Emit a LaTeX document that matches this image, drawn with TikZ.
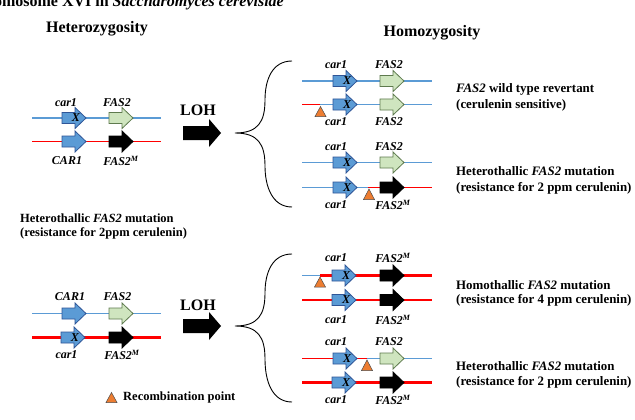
\documentclass[tikz,border=0pt]{standalone}
\usepackage{fontspec}
\setmainfont{Liberation Serif}
\definecolor{chrblue}{HTML}{5B9BD5}
\definecolor{chrred}{HTML}{FF0000}
\definecolor{genblue}{HTML}{5B9BD5}
\definecolor{genblueline}{HTML}{2F5597}
\definecolor{gengreen}{HTML}{CFE5BF}
\definecolor{gengreenline}{HTML}{5E7A4E}
\definecolor{recomb}{HTML}{ED7D31}
\newcommand\supM{\textsuperscript{M}}
\tikzset{
  gene/.pic={\path[pic actions] (0,-5.5) -- (13,-5.5) -- (13,-10.5) -- (24,0) -- (13,10.5) -- (13,5.5) -- (0,5.5) -- cycle;},
  bluegene/.style={fill=genblue,draw=genblueline,line width=0.8pt},
  greengene/.style={fill=gengreen,draw=gengreenline,line width=0.8pt},
  blackgene/.style={fill=black,draw=black,line width=0.8pt},
  bline/.style={draw=chrblue,line width=1.6pt},
  rline/.style={draw=chrred,line width=1.6pt},
  rlinethick/.style={draw=chrred,line width=2.3pt},
  glabel/.style={font=\fontsize{12}{13}\selectfont\bfseries\itshape,inner sep=0pt},
  xmark/.style={font=\fontsize{12}{13}\selectfont\bfseries\itshape,inner sep=0pt},
  desc/.style={font=\fontsize{12.5}{15}\selectfont\bfseries,inner sep=0pt,anchor=west},
  rdesc/.style={desc,font=\fontsize{12.9}{15}\selectfont\bfseries},
  head/.style={font=\fontsize{16}{18}\selectfont\bfseries,inner sep=0pt},
  bigarrow/.style={fill=black},
  brace/.style={draw=black,line width=0.9pt},
  tri/.style={fill=recomb,draw=black!70,line width=0.5pt},
}
\begin{document}
\begin{tikzpicture}[x=1pt,y=-1pt]
\useasboundingbox (0,0) rectangle (635,420);
\fill[white] (0,0) rectangle (635,420);
\clip (0,0) rectangle (635,420);

% title and headers
\node[head,anchor=base east] (title) at (284,6.5) {Chromosome XVI in \textit{Saccharomyces cerevisiae}};
\node[head] (het) at (97,29) {Heterozygosity};
\node[head] (hom) at (432,33) {Homozygosity};

% ===== left top =====
\draw[bline] (32,118) -- (161,118);
\draw[rline] (32,141.5) -- (161,141.5);
\pic[bluegene] at (62,118) {gene};
\pic[greengene] at (109,118) {gene};
\pic[bluegene] at (62,141.5) {gene};
\pic[blackgene] at (109,141.5) {gene};
\node[xmark] (xa) at (76,118) {X};
\node[glabel] (la1) at (66,102.5) {car1};
\node[glabel] (la2) at (117,102.5) {FAS2};
\node[glabel] (la3) at (67,161) {CAR1};
\node[glabel] (la4) at (121,161) {FAS2\supM};

\node[head] (loh1) at (198,110.5) {LOH};
\path[bigarrow] (183,126) -- (209,126) -- (209,119) -- (221,133) -- (209,147) -- (209,140) -- (183,140) -- cycle;
\draw[brace] (292,61) .. controls (272,61) and (265,80) .. (265,100) .. controls (265,122) and (258,133) .. (235,133) .. controls (258,133) and (265,144) .. (265,166) .. controls (265,186) and (272,207) .. (292,207);

\node[desc] (d0a) at (20,218.5) {Heterothallic \textit{FAS2} mutation};
\node[desc] (d0b) at (20,233.5) {(resistance for 2ppm cerulenin)};

% ===== left bottom =====
\draw[bline] (32,313.5) -- (161,313.5);
\draw[rlinethick] (32,337.5) -- (161,337.5);
\pic[bluegene] at (62,313.5) {gene};
\pic[greengene] at (109,313.5) {gene};
\pic[bluegene] at (61,337.5) {gene};
\pic[blackgene] at (109,337.5) {gene};
\node[xmark] (xb) at (75,337.5) {X};
\node[glabel] (lb1) at (70,296.5) {CAR1};
\node[glabel] (lb2) at (117.5,296.5) {FAS2};
\node[glabel] (lb3) at (66.5,355) {car1};
\node[glabel] (lb4) at (122,355) {FAS2\supM};

\node[head] (loh2) at (198,305) {LOH};
\path[bigarrow] (183,319) -- (209,319) -- (209,312) -- (221,326) -- (209,340) -- (209,333) -- (183,333) -- cycle;
\draw[brace] (292,254) .. controls (272,254) and (265,273) .. (265,293) .. controls (265,315) and (258,326) .. (235,326) .. controls (258,326) and (265,337) .. (265,359) .. controls (265,381) and (272,402) .. (292,402);

% legend
\path[tri] (111.5,392.5) -- (117,402.5) -- (106,402.5) -- cycle;
\node[desc] (leg) at (123,397.5) {Recombination point};

% ===== right group 1 =====
\draw[bline] (302,81) -- (432,81);
\draw[rline] (302,104.5) -- (320,104.5);
\draw[bline] (320,104.5) -- (432,104.5);
\pic[bluegene] at (333,81) {gene};
\pic[greengene] at (380,81) {gene};
\pic[bluegene] at (333,104.5) {gene};
\pic[greengene] at (380,104.5) {gene};
\node[xmark] (x1a) at (347,81) {X};
\node[xmark] (x1b) at (347,104.5) {X};
\path[tri] (320.5,106.5) -- (326,116.5) -- (315,116.5) -- cycle;
\node[glabel] (r1a) at (336,65) {car1};
\node[glabel] (r1b) at (389,65) {FAS2};
\node[glabel] (r1c) at (336,121.5) {car1};
\node[glabel] (r1d) at (389,121.5) {FAS2};
\node[rdesc] (d1a) at (456,89.5) {\textit{FAS2} wild type revertant};
\node[rdesc] (d1b) at (456,105) {(cerulenin sensitive)};

% ===== right group 2 =====
\draw[bline] (302,162.5) -- (432,162.5);
\draw[bline] (302,187.5) -- (368,187.5);
\draw[rline] (368,187.5) -- (432,187.5);
\pic[bluegene] at (333,162.5) {gene};
\pic[greengene] at (380,162.5) {gene};
\pic[bluegene] at (333,187.5) {gene};
\pic[blackgene] at (380,187.5) {gene};
\node[xmark] (x2a) at (347,162.5) {X};
\node[xmark] (x2b) at (347,187.5) {X};
\path[tri] (369,189) -- (374.5,199.5) -- (363.5,199.5) -- cycle;
\node[glabel] (r2a) at (336,146.5) {car1};
\node[glabel] (r2b) at (389,146.5) {FAS2};
\node[glabel] (r2c) at (336,205) {car1};
\node[glabel] (r2d) at (393,205) {FAS2\supM};
\node[rdesc] (d2a) at (456,171.5) {Heterothallic \textit{FAS2} mutation};
\node[rdesc] (d2b) at (456,188) {(resistance for 2 ppm cerulenin)};

% ===== right group 3 =====
\draw[bline] (302,275.5) -- (320,275.5);
\draw[rlinethick] (320,275.5) -- (432,275.5);
\draw[rlinethick] (302,300) -- (432,300);
\pic[bluegene] at (332,275.5) {gene};
\pic[blackgene] at (380,275.5) {gene};
\pic[bluegene] at (332,300) {gene};
\pic[blackgene] at (380,300) {gene};
\node[xmark] (x3a) at (346,275.5) {X};
\node[xmark] (x3b) at (346,300) {X};
\path[tri] (320,277) -- (325.5,287) -- (314.5,287) -- cycle;
\node[glabel] (r3a) at (336,258) {car1};
\node[glabel] (r3b) at (393,258) {FAS2\supM};
\node[glabel] (r3c) at (336,320) {car1};
\node[glabel] (r3d) at (393,320) {FAS2\supM};
\node[rdesc] (d3a) at (456,285) {Homothallic \textit{FAS2} mutation};
\node[rdesc] (d3b) at (456,300.5) {(resistance for 4 ppm cerulenin)};

% ===== right group 4 =====
\draw[rline] (302,358.5) -- (367,358.5);
\draw[bline] (367,358.5) -- (432,358.5);
\draw[rlinethick] (302,382.5) -- (432,382.5);
\pic[bluegene] at (333,358.5) {gene};
\pic[greengene] at (380,358.5) {gene};
\pic[bluegene] at (332,382.5) {gene};
\pic[blackgene] at (380,382.5) {gene};
\node[xmark] (x4a) at (347,358.5) {X};
\node[xmark] (x4b) at (346,382.5) {X};
\path[tri] (367,360) -- (372.5,370.5) -- (361.5,370.5) -- cycle;
\node[glabel] (r4a) at (336,341.5) {car1};
\node[glabel] (r4b) at (389,341.5) {FAS2};
\node[glabel] (r4c) at (336,400) {car1};
\node[glabel] (r4d) at (393,400) {FAS2\supM};
\node[rdesc] (d4a) at (456,366.5) {Heterothallic \textit{FAS2} mutation};
\node[rdesc] (d4b) at (456,382) {(resistance for 2 ppm cerulenin)};
\end{tikzpicture}
\end{document}
